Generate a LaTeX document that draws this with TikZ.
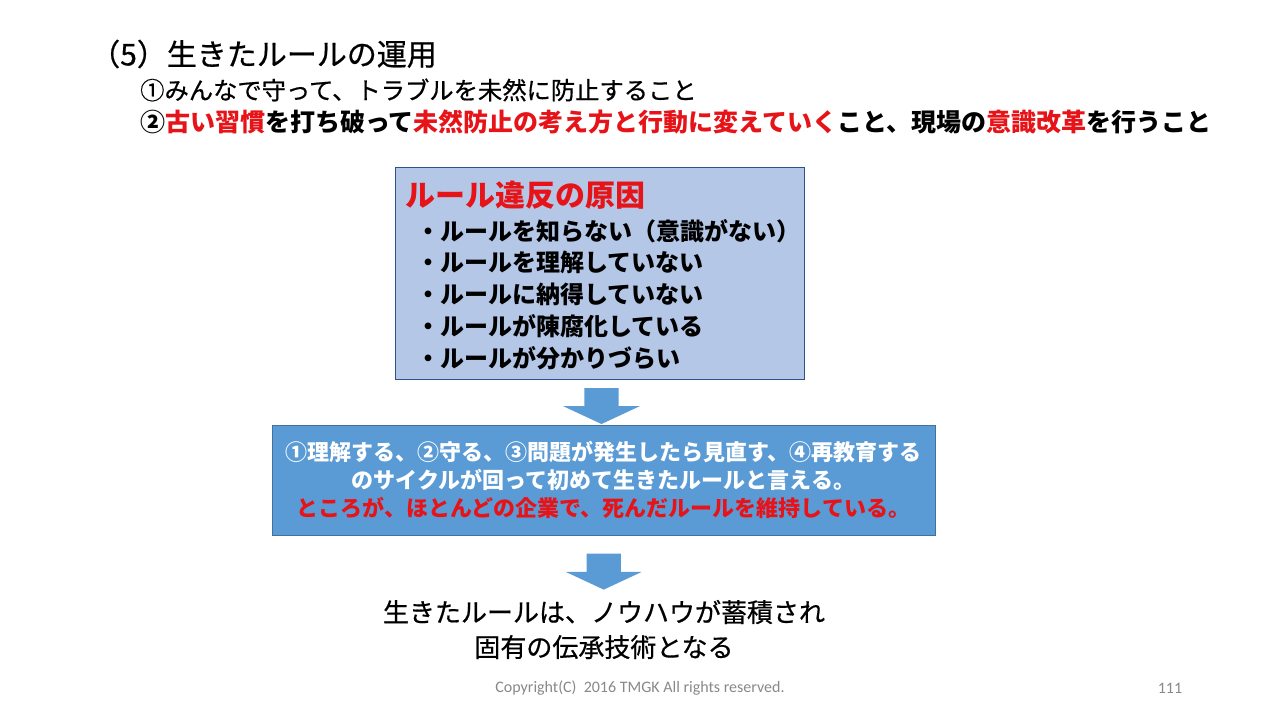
\documentclass[tikz,border=0pt]{standalone}
\usepackage{fontspec}
\setmainfont{Noto Sans CJK JP}
\newfontfamily\jpmid{Noto Sans CJK JP}[FakeBold=0.6]
\newfontfamily\footlatin{Carlito}
\usetikzlibrary{positioning}
\usetikzlibrary{shapes.arrows}
\usetikzlibrary{calc}

\definecolor{slidered}{RGB}{230,20,25}
\definecolor{boxlight}{RGB}{180,199,231}
\definecolor{boxlightline}{RGB}{47,82,143}
\definecolor{boxblue}{RGB}{91,155,213}
\definecolor{boxblueline}{RGB}{65,113,156}
\definecolor{footgray}{RGB}{137,137,137}

\begin{document}
\begin{tikzpicture}[x=1pt, y=-1pt,
  headline/.style={anchor=west, inner sep=0pt, font=\jpmid\fontsize{30}{34}\selectfont},
  subline/.style={anchor=west, inner sep=0pt, font=\jpmid\fontsize{24.3}{28}\selectfont},
  causebox/.style={draw=boxlightline, fill=boxlight, line width=0.9pt, minimum width=409pt, minimum height=212pt, inner sep=0pt},
  causeitem/.style={anchor=west, inner sep=0pt, font=\bfseries\fontsize{24}{27}\selectfont},
  cyclebox/.style={draw=boxblueline, fill=boxblue, line width=0.9pt, minimum width=663pt, minimum height=110pt, inner sep=0pt, text=white, align=center, font=\bfseries\fontsize{22}{28}\selectfont},
  downarrow/.style={single arrow, draw=none, fill=boxblue, rotate=-90, minimum height=36pt, single arrow head extend=21pt, single arrow tip angle=130, inner xsep=0pt, inner ysep=17pt},
  foot/.style={text=footgray, inner sep=0pt, font=\footlatin\fontsize{16}{18}\selectfont}]

  % page of the slide
  \fill[white] (0,0) rectangle (1280,720);
  \useasboundingbox (0,0) rectangle (1280,720);

  % heading and the two aims
  \node[headline] (title) at (90,54) {（5）生きたルールの運用};
  \node[subline] (aimA) at (140,90) {①みんなで守って、トラブルを未然に防止すること};
  \node[subline, font=\bfseries\fontsize{25}{28}\selectfont] (aimB) at (140,122)
    {②\textcolor{slidered}{古い習慣}を打ち破って\textcolor{slidered}{未然防止の考え方と行動に変えていく}こと、現場の\textcolor{slidered}{意識改革}を行うこと};

  % causes of broken rules
  \node[causebox] (causes) at (599.5,273) {};
  \node[anchor=west, inner sep=0pt, text=slidered, font=\bfseries\fontsize{30}{34}\selectfont] (causetitle) at (405,195) {ルール違反の原因};
  \foreach \txt [count=\i] in {ルールを知らない（意識がない）, ルールを理解していない, ルールに納得していない, ルールが陳腐化している, ルールが分かりづらい} {
    \node[causeitem] (cause\i) at (416,{231+31.8*(\i-1)}) {・\txt};
  }

  % the cycle box
  \node[cyclebox] (cycle) at (603.5,480)
    {①理解する、②守る、③問題が発生したら見直す、④再教育する\\
     のサイクルが回って初めて生きたルールと言える。\\
     \textcolor{slidered}{ところが、ほとんどの企業で、死んだルールを維持している。}};

  % conclusion
  \node[align=center, inner sep=0pt, font=\jpmid\fontsize{26}{35}\selectfont] (living) at (604,629.5)
    {生きたルールは、ノウハウが蓄積され\\固有の伝承技術となる};

  % block arrows between the parts
  \node[downarrow] (arrowA) at ($(causes.south)!0.5!(cycle.north)$) {};
  \node[downarrow] (arrowB) at ($(cycle.south)!0.5!(living.north)$) {};

  % footer
  \node[foot] (copyright) at (640,688) {Copyright(C)\ \ 2016 TMGK All rights reserved.};
  \node[foot] (pagenum) at (1170,688) {111};
\end{tikzpicture}
\end{document}
